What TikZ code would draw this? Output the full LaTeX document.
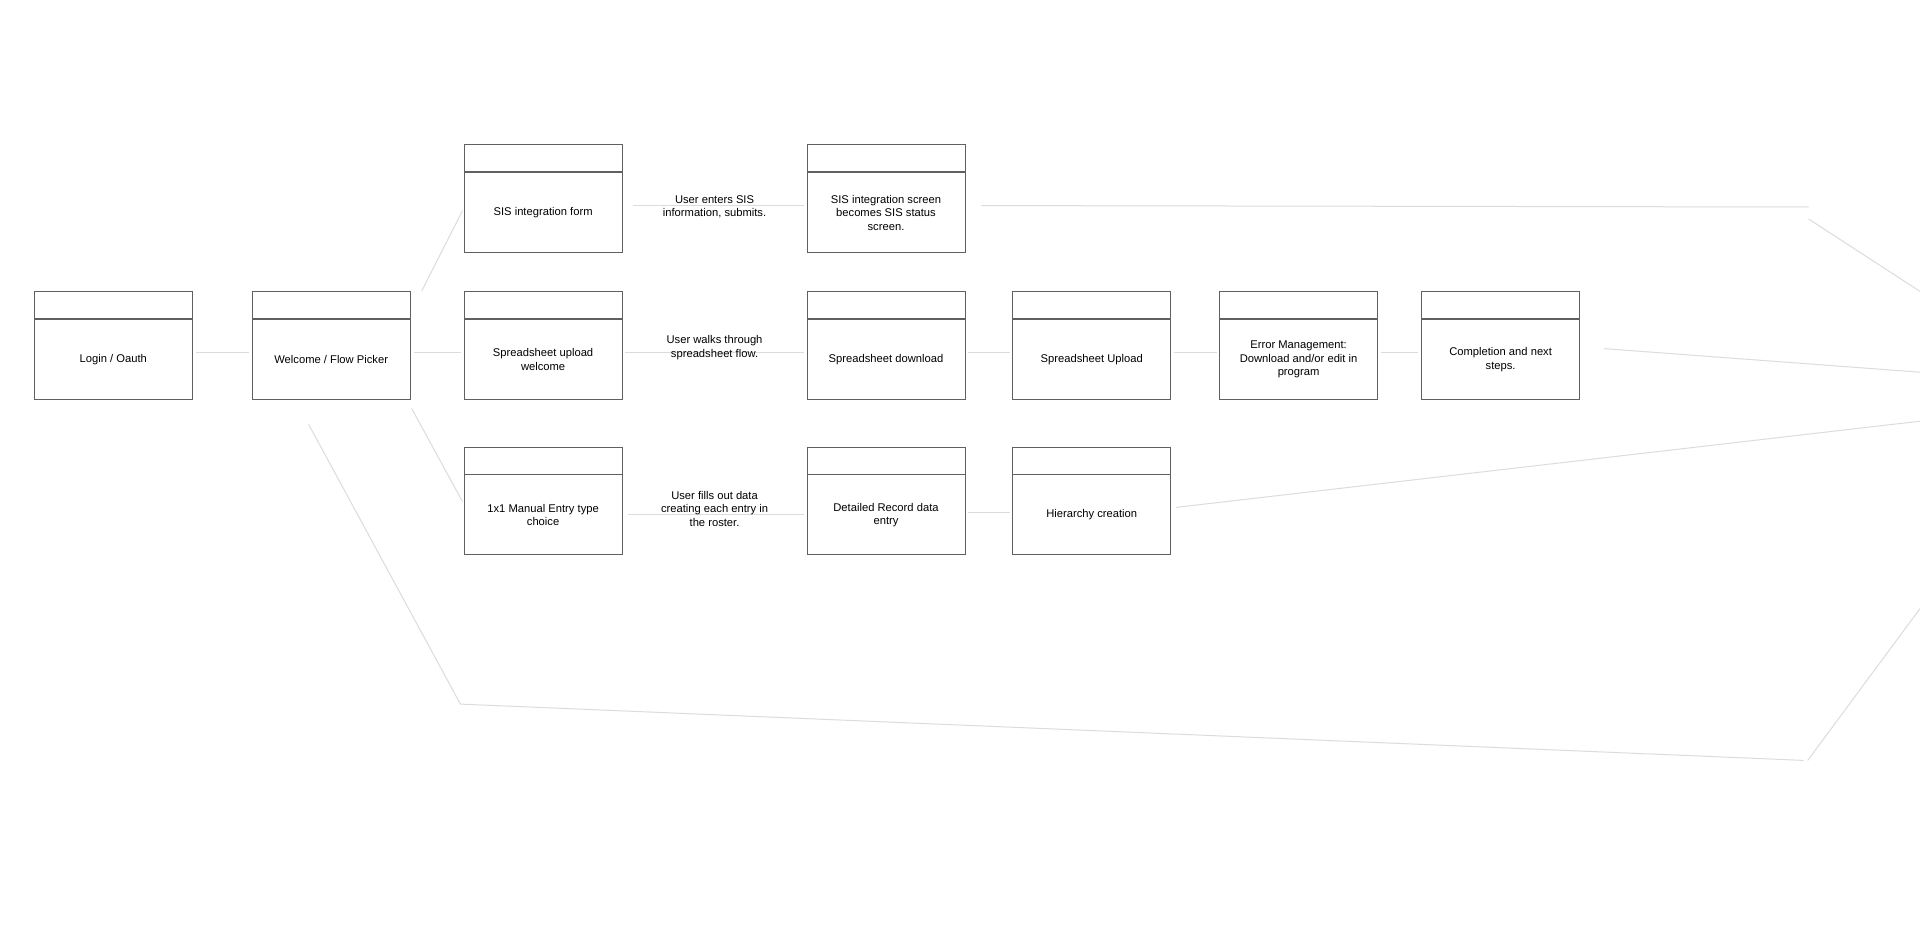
\documentclass[tikz,border=0pt]{standalone}
\usepackage{fontspec}
\setmainfont{Liberation Sans}
\usetikzlibrary{positioning}
\definecolor{boxgray}{HTML}{606060}
\definecolor{linkgray}{HTML}{DCDCDC}
\tikzset{
    screen/.style={rectangle, draw=boxgray, line width=0.9pt, minimum width=158pt, minimum height=80pt, text width=132pt, align=flush center, inner sep=0pt, font=\fontsize{11.2}{13.5}\selectfont},
    header/.style={rectangle, draw=boxgray, line width=0.9pt, minimum width=158pt, minimum height=27pt, inner sep=0pt},
    link/.style={draw=linkgray, line width=1pt},
    note/.style={text width=118pt, align=flush center, inner sep=0pt, font=\fontsize{11.2}{13.5}\selectfont}
}

\begin{document}
\begin{tikzpicture}[x=1pt, y=-1pt]
        \fill[white] (0,0) rectangle (1920,931);
        \useasboundingbox (0,0) rectangle (1920,931);

        % Screens
        \node[screen] (login) at (113.3,359.4) {Login / Oauth};
        \node[screen] (welcome) at (331.2,359.4) {Welcome / Flow Picker};
        \node[screen] (sisform) at (543.1,212.5) {SIS integration form};
        \node[screen] (sheetwelcome) at (543.1,359.4) {Spreadsheet upload welcome};
        \node[screen] (manual) at (543.1,514.9) {1x1 Manual Entry type choice};
        \node[screen] (sisstatus) at (886,212.5) {SIS integration screen becomes SIS status screen.};
        \node[screen] (download) at (886,359.4) {Spreadsheet download};
        \node[screen] (upload) at (1091.7,359.4) {Spreadsheet Upload};
        \node[screen] (errors) at (1298.6,359.4) {Error Management: Download and/or edit in program};
        \node[screen] (done) at (1500.6,359.4) {Completion and next steps.};
        \node[screen] (record) at (886,514.9) {Detailed Record data entry};
        \node[screen] (hierarchy) at (1091.7,514.9) {Hierarchy creation};

        % Title bars
        \foreach \s in {login, welcome, sisform, sheetwelcome, manual, sisstatus, download, upload, errors, done, record, hierarchy}
            \node[header, above=0pt of \s] (\s-bar) {};

        % Free ends beyond the right edge
        \coordinate (sisturn) at (1808.6,207);
        \coordinate (out1) at (1920,291.4);
        \coordinate (out2) at (1920,372.2);
        \coordinate (out3) at (1920,421.2);
        \coordinate (lowturn) at (460.4,704.1);
        \coordinate (lowend) at (1803.7,760.4);
        \coordinate (out4) at (1920,608.6);

        % Flows
        \draw[link, shorten <=3pt, shorten >=3pt] (login.5) -- (welcome.175);
        \draw[link, shorten <=3.5pt, shorten >=2.5pt] (welcome.5) -- (sheetwelcome.175);
        \draw[link, shorten >=2.5pt] ([xshift=11pt]welcome-bar.north east) -- (sisform.177);
        \draw[link, shorten >=2.5pt] ([shift={(1pt,-8.6pt)}]welcome.south east) -- (manual.172);

        \draw[link, shorten <=10pt, shorten >=2.5pt] (sisform.5) -- node[note, yshift=-1.5pt] {User enters SIS information, submits.} (sisstatus.175);
        \draw[link, shorten <=16pt] (sisstatus.5) -- (sisturn);
        \draw[link] ([yshift=-12pt]sisturn) -- (out1);

        \draw[link, shorten <=2.5pt, shorten >=2.5pt] (sheetwelcome.5) -- node[note, yshift=5pt] {User walks through spreadsheet flow.} (download.175);
        \draw[link, shorten <=2.5pt, shorten >=2.5pt] (download.5) -- (upload.175);
        \draw[link, shorten <=2.5pt, shorten >=2.5pt] (upload.5) -- (errors.175);
        \draw[link, shorten <=3pt, shorten >=3.5pt] (errors.5) -- (done.175);
        \draw[link, shorten <=24pt] (done.9) -- (out2);

        \draw[link, shorten <=5pt, shorten >=2.5pt] (manual.east) -- node[note, yshift=6pt] {User fills out data creating each entry in the roster.} (record.west);
        \draw[link, shorten <=2.5pt, shorten >=2.5pt] (record.2) -- (hierarchy.178);
        \draw[link, shorten <=5pt] (hierarchy.5) -- (out3);

        \draw[link] ([shift={(-22.6pt,-24.5pt)}]welcome.south) -- (lowturn) -- (lowend);
        \draw[link] ([xshift=4pt]lowend) -- (out4);
    \end{tikzpicture}
\end{document}
